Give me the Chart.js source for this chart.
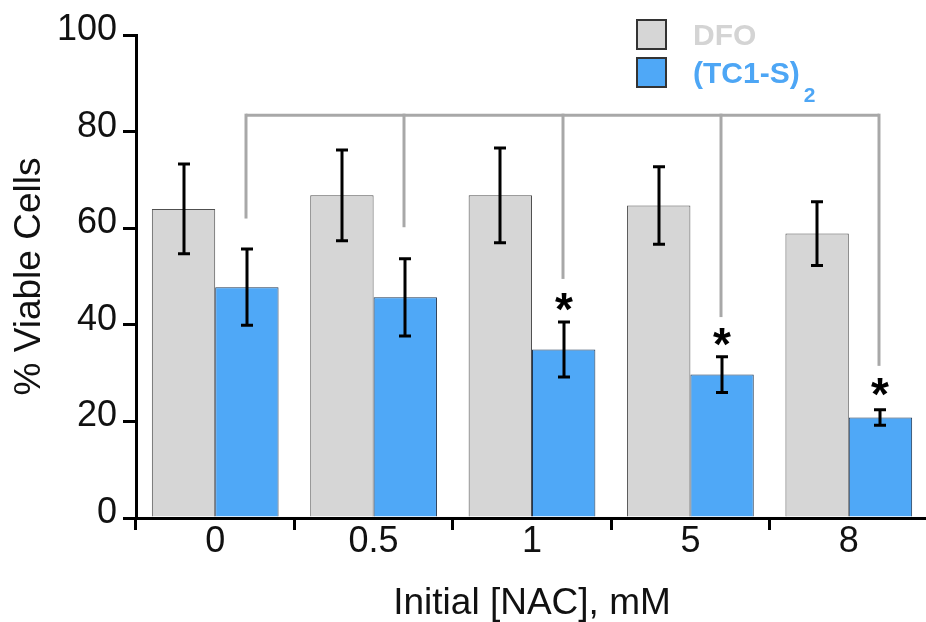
<!DOCTYPE html>
<html>
<head>
<meta charset="utf-8">
<script src="https://cdn.jsdelivr.net/npm/chart.js@4.4.1/dist/chart.umd.min.js"></script>
<style>
  html, body { margin: 0; padding: 0; background: #fff; overflow: hidden; }
  #wrap { position: absolute; left: 0; top: 0; width: 932px; height: 622px; }
</style>
</head>
<body>
<div id="wrap"><canvas id="c" width="932" height="622"></canvas></div>
<script>
// ---- data ----
const categories = ['0', '0.5', '1', '5', '8'];
const dfoMean = [64.0, 66.8, 66.8, 64.7, 58.9];
const dfoErr  = [9.3, 9.4, 9.8, 8.0, 6.6];
const tcMean  = [47.8, 45.7, 34.9, 29.7, 20.8];
const tcErr   = [7.9, 8.0, 5.7, 3.7, 1.6];
const bracketTop = 83.4;
const bracketEnd = [62.0, 60.2, 49.5, 41.6, 31.5];
const starAt = [null, null, 44.7, 37.4, 27.2];
const yTicks = [0, 20, 40, 60, 80, 100];
const legendMain = ['DFO', '(TC1-S)'];
const legendSub = ['', '2'];

const grayFill = '#d6d6d6';
const blueFill = '#4fa8f7';
const FONT = '"Liberation Sans", Arial, sans-serif';

const errorBars = {
  id: 'errorBars',
  afterDatasetsDraw(chart) {
    const ctx = chart.ctx;
    const y = chart.scales.y;
    const errs = [dfoErr, tcErr];
    const means = [dfoMean, tcMean];
    ctx.save();
    ctx.strokeStyle = '#000';
    ctx.lineWidth = 3;
    for (let d = 0; d < 2; d++) {
      const meta = chart.getDatasetMeta(d);
      meta.data.forEach((el, i) => {
        const x = Math.round(el.x);
        const t = y.getPixelForValue(means[d][i] + errs[d][i]);
        const b = y.getPixelForValue(means[d][i] - errs[d][i]);
        ctx.beginPath();
        ctx.moveTo(x, t); ctx.lineTo(x, b);
        ctx.moveTo(x - 6, t); ctx.lineTo(x + 6, t);
        ctx.moveTo(x - 6, b); ctx.lineTo(x + 6, b);
        ctx.stroke();
      });
    }
    // bracket
    const meta = chart.getDatasetMeta(1);
    const yt = y.getPixelForValue(bracketTop);
    ctx.strokeStyle = '#a8a8a8';
    ctx.lineWidth = 3;
    ctx.lineCap = 'butt';
    const xs = meta.data.map(el => Math.round(el.x) - 1);
    ctx.beginPath();
    ctx.moveTo(xs[0], yt); ctx.lineTo(xs[xs.length - 1], yt);
    ctx.stroke();
    xs.forEach((x, i) => {
      ctx.beginPath();
      ctx.moveTo(x, yt - 1.5);
      ctx.lineTo(x, y.getPixelForValue(bracketEnd[i]));
      ctx.stroke();
    });
    // asterisks
    ctx.fillStyle = '#000';
    ctx.font = 'bold 46px ' + FONT;
    ctx.textAlign = 'center';
    ctx.textBaseline = 'alphabetic';
    const m = ctx.measureText('*');
    const asc = m.actualBoundingBoxAscent, desc = m.actualBoundingBoxDescent;
    starAt.forEach((v, i) => {
      if (v == null) return;
      const cy = y.getPixelForValue(v);
      ctx.fillText('*', xs[i] + 1, cy - (desc - asc) / 2);
    });
    ctx.restore();
  }
};

const customLegend = {
  id: 'customLegend',
  afterDraw(chart) {
    const ctx = chart.ctx;
    ctx.save();
    const tops = [19, 57];
    const colors = ['#d4d4d4', '#4da6f5'];
    chart.data.datasets.forEach((ds, i) => {
      ctx.fillStyle = ds.backgroundColor;
      ctx.fillRect(636, tops[i], 31, 31);
      ctx.strokeStyle = '#333';
      ctx.lineWidth = 2;
      ctx.strokeRect(637, tops[i] + 1, 29, 29);
      ctx.fillStyle = colors[i];
      ctx.font = 'bold 30px ' + FONT;
      ctx.textAlign = 'left';
      ctx.textBaseline = 'alphabetic';
      const base = tops[i] + 26;
      ctx.fillText(legendMain[i], 693, base);
      if (legendSub[i]) {
        const w = ctx.measureText(legendMain[i]).width;
        ctx.font = 'bold 21px ' + FONT;
        ctx.fillText(legendSub[i], 693 + w + 4, base + 19);
      }
    });
    ctx.restore();
  }
};

new Chart(document.getElementById('c'), {
  type: 'bar',
  data: {
    labels: categories,
    datasets: [
      { label: 'DFO', data: dfoMean, backgroundColor: grayFill, borderColor: '#505050', borderWidth: 1,
        categoryPercentage: 0.8, barPercentage: 1.0 },
      { label: '(TC1-S)₂', data: tcMean, backgroundColor: blueFill, borderColor: '#1f3550', borderWidth: 1,
        categoryPercentage: 0.8, barPercentage: 1.0 }
    ]
  },
  options: {
    responsive: false,
    animation: false,
    devicePixelRatio: 1,
    layout: { padding: { top: 35, right: 4, left: 0, bottom: 0 } },
    plugins: { legend: { display: false }, tooltip: { enabled: false } },
    scales: {
      x: {
        z: 1,
        grid: { display: true, offset: true, drawOnChartArea: false, drawTicks: true, tickLength: 12, lineWidth: 3, color: '#000' },
        border: { display: true, width: 3, color: '#000' },
        ticks: { color: '#111', font: { family: FONT, size: 36 }, padding: -10, maxRotation: 0 },
        title: { display: true, text: 'Initial [NAC], mM', color: '#111', font: { family: FONT, size: 37, lineHeight: 1.0 }, padding: { top: 0, bottom: 0 } },
        afterFit(scale) { scale.height = 104; }
      },
      y: {
        z: 1,
        min: 0, max: 100,
        afterBuildTicks(scale) { scale.ticks = yTicks.map(v => ({ value: v })); },
        grid: { display: true, drawOnChartArea: false, drawTicks: true, tickLength: 13, lineWidth: 3, color: '#000' },
        border: { display: true, width: 3, color: '#000' },
        ticks: { color: '#111', font: { family: FONT, size: 36 }, padding: 6, labelOffset: -5 },
        title: { display: true, text: '% Viable Cells', color: '#111', font: { family: FONT, size: 37, lineHeight: 1.2 }, padding: { top: 8, bottom: 0 } },
        afterFit(scale) { scale.width = 136; }
      }
    }
  },
  plugins: [errorBars, customLegend]
});
</script>
</body>
</html>
